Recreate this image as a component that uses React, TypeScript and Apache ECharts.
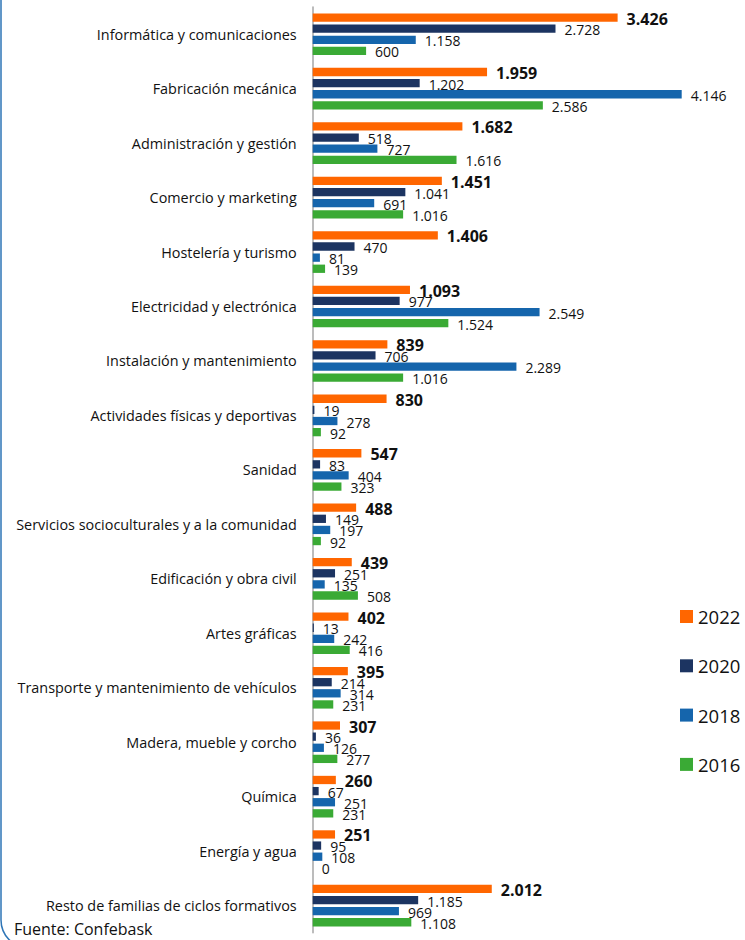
import React, { useEffect, useRef } from "react";
import * as echarts from "echarts";

const categories = [
  "Informática y comunicaciones",
  "Fabricación mecánica",
  "Administración y gestión",
  "Comercio y marketing",
  "Hostelería y turismo",
  "Electricidad y electrónica",
  "Instalación y mantenimiento",
  "Actividades físicas y deportivas",
  "Sanidad",
  "Servicios socioculturales y a la comunidad",
  "Edificación y obra civil",
  "Artes gráficas",
  "Transporte y mantenimiento de vehículos",
  "Madera, mueble y corcho",
  "Química",
  "Energía y agua",
  "Resto de familias de ciclos formativos",
];

const years = ["2022", "2020", "2018", "2016"];

const values2022 = [3426, 1959, 1682, 1451, 1406, 1093, 839, 830, 547, 488, 439, 402, 395, 307, 260, 251, 2012];
const values2020 = [2728, 1202, 518, 1041, 470, 977, 706, 19, 83, 149, 251, 13, 214, 36, 67, 95, 1185];
const values2018 = [1158, 4146, 727, 691, 81, 2549, 2289, 278, 404, 197, 135, 242, 314, 126, 251, 108, 969];
const values2016 = [600, 2586, 1616, 1016, 139, 1524, 1016, 92, 323, 92, 508, 416, 231, 277, 231, 0, 1108];

const sourceText = "Fuente: Confebask";

const colors = ["#FF6600", "#1C3461", "#1565AC", "#3AAA35"];

const FONT = "'Open Sans', 'Noto Sans', sans-serif";

function fmt(v: number): string {
  if (v >= 1000) {
    const th = Math.floor(v / 1000);
    const rest = String(v % 1000).padStart(3, "0");
    return th + "." + rest;
  }
  return String(v);
}

export default function App() {
  const ref = useRef<HTMLDivElement>(null);

  useEffect(() => {
    document.body.style.margin = "0";
    if (!ref.current) return;
    const chart = echarts.init(ref.current, undefined, { renderer: "svg" });
    const allData = [values2022, values2020, values2018, values2016];
    const xMax = 4500;
    const pxPerUnit = (681.7 - 312.7) / 4146;

    const series = years.map((y, i) => ({
      name: y,
      type: "bar" as const,
      data: allData[i],
      barWidth: 8.3,
      barGap: "34%",
      itemStyle: { color: colors[i] },
      label: {
        show: true,
        position: "right" as const,
        distance: 9,
        offset: [0, 1],
        formatter: (p: any) => fmt(p.value),
        color: "#111",
        fontFamily: FONT,
        fontSize: i === 0 ? 16 : 14,
        fontWeight: i === 0 ? ("bold" as const) : ("normal" as const),
      },
    }));

    chart.setOption({
      animation: false,
      backgroundColor: "#ffffff",
      grid: {
        left: 312.7,
        top: 7,
        width: xMax * pxPerUnit,
        height: 17 * 54.46,
        containLabel: false,
      },
      xAxis: {
        type: "value",
        min: 0,
        max: xMax,
        show: false,
        splitLine: { show: false },
      },
      yAxis: {
        type: "category",
        inverse: true,
        data: categories,
        axisLine: { show: true, lineStyle: { color: "#A6A6A6", width: 1.5 } },
        axisTick: { show: false },
        axisLabel: {
          margin: 16,
          color: "#111",
          fontFamily: FONT,
          fontSize: 14.4,
        },
      },
      legend: {
        orient: "vertical",
        left: 680,
        top: 606.5,
        padding: 0,
        itemWidth: 13,
        itemHeight: 13,
        itemGap: 29.3,
        icon: "rect",
        data: years,
        textStyle: {
          fontFamily: FONT,
          fontSize: 18.5,
          lineHeight: 20,
          color: "#111",
        },
      },
      graphic: [
        {
          type: "rect",
          z: -1,
          silent: true,
          shape: { x: 1, y: -60, width: 900, height: 1008, r: 28 },
          style: { fill: "none", stroke: "#2E75B6", lineWidth: 1.5 },
        },
        {
          type: "text",
          left: 14,
          top: 921,
          style: {
            text: sourceText,
            fontFamily: FONT,
            fontSize: 16,
            fill: "#111",
          },
        },
      ],
      series,
    });

    return () => chart.dispose();
  }, []);

  return <div ref={ref} style={{ width: 745, height: 940 }} />;
}
